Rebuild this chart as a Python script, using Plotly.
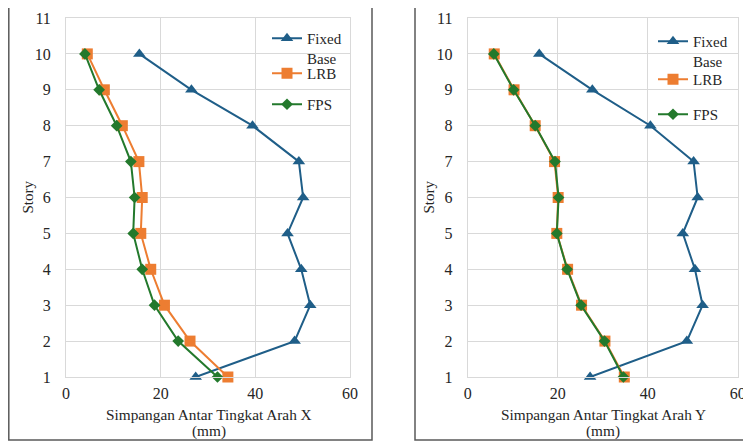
import plotly.graph_objects as go

stories = [1, 2, 3, 4, 5, 6, 7, 8, 9, 10]

# Arah X
fixed_x = [27.4, 48.3, 51.6, 49.7, 46.8, 50.1, 49.2, 39.4, 26.5, 15.5]
lrb_x = [34.2, 26.2, 20.8, 17.9, 15.8, 16.1, 15.4, 11.9, 8.1, 4.5]
fps_x = [32.0, 23.7, 18.7, 16.1, 14.2, 14.5, 13.7, 10.7, 7.0, 4.0]

# Arah Y
fixed_y = [27.2, 48.7, 52.2, 50.5, 47.8, 51.1, 50.2, 40.6, 27.7, 15.9]
lrb_y = [34.8, 30.5, 25.3, 22.2, 19.8, 20.1, 19.3, 15.0, 10.3, 5.9]
fps_y = [34.6, 30.4, 25.2, 22.1, 19.8, 20.2, 19.4, 15.0, 10.2, 5.8]

x_ticks = [0, 20, 40, 60]
y_ticks = [1, 2, 3, 4, 5, 6, 7, 8, 9, 10, 11]

names = ["Fixed<br>Base", "LRB", "FPS"]
colors = ["#1F5E88", "#ED7D31", "#23792C"]
symbols = ["triangle-up", "square", "diamond"]
msizes = [11, 11, 9]

# page body has an 8px margin, so the figure is drawn 8px in from the window edge
OFF = 8
W, H = 751 - OFF, 441 - OFF
FONT = "Times New Roman"
TXT = "#262626"


def px_x(p):
    return (p - OFF) / W


def px_y(p):
    return 1 - (p - OFF) / H


fig = go.Figure()

# legend top positions (screen px) for each entry of each panel
leg_left_x, leg_right_x = 267, 653
leg_tops_left = [22, 57, 88]
leg_tops_right = [25, 63, 98]

panels = [
    ([fixed_x, lrb_x, fps_x], "x", "y", leg_left_x, leg_tops_left),
    ([fixed_y, lrb_y, fps_y], "x2", "y2", leg_right_x, leg_tops_right),
]
legends = {}
k = 0
for series, xa, ya, lx, ltops in panels:
    for vals, nm, col, sym, ms, lt in zip(series, names, colors, symbols, msizes, ltops):
        k += 1
        lname = "legend" if k == 1 else "legend%d" % k
        legends[lname] = dict(
            x=px_x(lx), y=px_y(lt), xanchor="left", yanchor="top",
            bgcolor="rgba(0,0,0,0)", font=dict(family=FONT, size=15, color=TXT),
            itemwidth=30, valign="top",
        )
        fig.add_trace(go.Scatter(
            x=vals, y=stories, mode="lines+markers", name=nm,
            line=dict(color=col, width=2),
            marker=dict(symbol=sym, size=ms, color=col),
            xaxis=xa, yaxis=ya, legend=lname, cliponaxis=False,
        ))

ydom = [px_y(377), px_y(18)]
axis_common = dict(
    showgrid=True, gridcolor="#D9D9D9", gridwidth=1,
    showline=True, linecolor="#D9D9D9", linewidth=1, mirror=True,
    zeroline=False, tickfont=dict(family=FONT, size=16, color=TXT),
    automargin=False, fixedrange=True, ticks="",
)
fig.update_layout(
    width=W, height=H,
    margin=dict(l=0, r=0, t=0, b=0),
    paper_bgcolor="white", plot_bgcolor="white",
    font=dict(family=FONT, size=15, color=TXT),
    xaxis=dict(domain=[px_x(66), px_x(350)], range=[0, 60], tickvals=x_ticks,
               anchor="y", ticklabelstandoff=2, **axis_common),
    yaxis=dict(domain=ydom, range=[1, 11], tickvals=y_ticks,
               anchor="x", ticklabelstandoff=11, **axis_common),
    xaxis2=dict(domain=[px_x(467.7), px_x(737.7)], range=[0, 60], tickvals=x_ticks,
                anchor="y2", ticklabelstandoff=2, **axis_common),
    yaxis2=dict(domain=ydom, range=[1, 11], tickvals=y_ticks,
                anchor="x2", ticklabelstandoff=11, **axis_common),
    showlegend=True,
    **legends,
)

# axis titles
titles = [
    ("Simpangan Antar Tingkat Arah X", "(mm)", 209),
    ("Simpangan Antar Tingkat Arah Y", "(mm)", 603),
]
for line1, line2, xc in titles:
    for txt, yc in ((line1, 414), (line2, 431)):
        fig.add_annotation(text=txt, x=px_x(xc), y=px_y(yc), xref="paper", yref="paper",
                           showarrow=False, xanchor="center", yanchor="middle",
                           font=dict(family=FONT, size=15.3, color=TXT))
for xp in [27, 428]:
    fig.add_annotation(text="Story", x=px_x(xp), y=px_y(197.5), xref="paper", yref="paper",
                       showarrow=False, textangle=-90, xanchor="center", yanchor="middle",
                       font=dict(family=FONT, size=15, color=TXT))

# panel borders
fig.add_shape(type="rect", xref="paper", yref="paper",
              x0=px_x(8.8), x1=px_x(372), y0=px_y(440), y1=px_y(7),
              line=dict(color="#595959", width=1.5))
fig.add_shape(type="rect", xref="paper", yref="paper",
              x0=px_x(415), x1=px_x(770), y0=px_y(440), y1=px_y(7),
              line=dict(color="#595959", width=1.5))

fig.write_html("out.html")
